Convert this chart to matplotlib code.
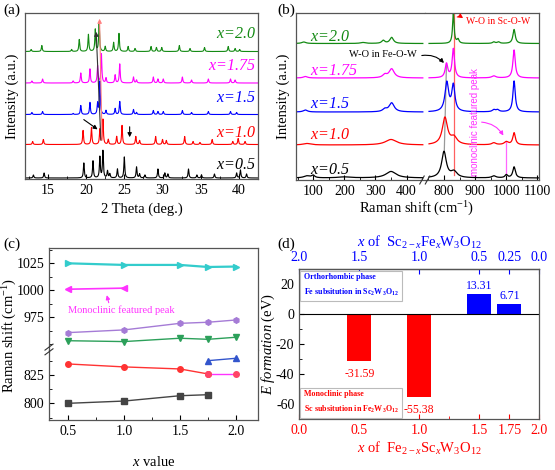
import numpy as np
import matplotlib
matplotlib.use('Agg')
import matplotlib.pyplot as plt
from matplotlib.ticker import MultipleLocator

plt.rcParams['font.family'] = ['Liberation Serif', 'DejaVu Serif']
plt.rcParams['mathtext.fontset'] = 'custom'
plt.rcParams['mathtext.rm'] = 'Liberation Serif'
plt.rcParams['mathtext.it'] = 'Liberation Serif:italic'
plt.rcParams['mathtext.bf'] = 'Liberation Serif:bold'
plt.rcParams['xtick.direction'] = 'in'
plt.rcParams['ytick.direction'] = 'in'
plt.rcParams['font.size'] = 10
plt.rcParams['axes.edgecolor'] = '#555555'
plt.rcParams['axes.linewidth'] = 0.9
plt.rcParams['axes.unicode_minus'] = False

GREEN = '#138a13'

# ---------------- (a) XRD data: peak positions (deg) and heights ----------------
xrd_labels = ['x=0.5', 'x=1.0', 'x=1.5', 'x=1.75', 'x=2.0']
xrd_colors = ['black', 'red', 'blue', 'magenta', GREEN]
xrd_base = [1, 34.5, 64.5, 96, 127.5]

xrd_pos_05 = [13.1, 14.5, 19.7, 20.9, 21.8, 22.2, 22.8, 23.1, 24.1, 25.0, 26.6, 27.0, 27.7,
              29.4, 30.3, 30.7, 33.4, 34.5, 35.1, 36.8, 39.7, 40.2, 41.0]
xrd_h_05 = [3, 5, 15, 17, 21, 27, 7, 4, 9, 21, 11, 4, 3, 9, 5, 4, 9, 3, 3, 4, 5, 8, 4]
xrd_pos_10 = [13.0, 14.4, 19.6, 20.7, 21.8, 22.2, 22.9, 24.0, 24.7, 26.5, 27.0, 29.1, 30.0,
              30.5, 32.9, 34.0, 34.9, 36.5, 39.2, 39.9, 40.8]
xrd_h_10 = [3, 5, 14, 17, 15, 25, 5, 8, 19, 8, 4, 8, 5, 4, 8, 3, 2, 5, 3, 6, 3]
xrd_pos_15 = [12.9, 14.3, 18.3, 19.3, 20.5, 21.5, 21.8, 22.6, 23.8, 24.4, 26.2, 26.6, 28.8,
              29.4, 30.1, 32.6, 33.8, 36.0, 38.9, 39.7]
xrd_h_15 = [2, 3, 1, 9, 12, 11, 33, 4, 6, 13, 5, 2, 4, 3, 3, 4, 2, 3, 3, 2]
xrd_pos_175 = [12.9, 14.3, 18.3, 19.3, 20.5, 21.5, 22.0, 22.6, 23.8, 24.4, 26.2, 26.6, 28.8,
               29.4, 30.1, 32.6, 33.8, 36.0, 38.9, 39.5]
xrd_h_175 = [2, 4, 2, 10, 14, 17, 29, 5, 8, 19, 6, 3, 6, 4, 4, 6, 3, 4, 4, 3]
xrd_pos_20 = [12.8, 14.2, 18.1, 19.1, 20.3, 21.2, 21.7, 22.5, 23.6, 24.3, 25.5, 26.4, 28.5,
              29.2, 29.9, 32.2, 33.6, 35.5, 38.6, 39.5, 40.1]
xrd_h_20 = [2, 6, 2, 12, 17, 22, 28, 5, 9, 18, 5, 3, 5, 4, 4, 6, 3, 4, 5, 3, 2]
xrd_pos = [xrd_pos_05, xrd_pos_10, xrd_pos_15, xrd_pos_175, xrd_pos_20]
xrd_h = [xrd_h_05, xrd_h_10, xrd_h_15, xrd_h_175, xrd_h_20]

# ---------------- (b) Raman data: peak position, height, half width ----------------
ram_base = [2, 35, 68, 102, 136.5]
ram_pos_05 = [80, 100, 200, 350, 800, 832, 960, 1000, 1025]
ram_h_05 = [2, 2.5, 1, 6.5, 26, 6, 2, 3, 11]
ram_w_05 = [12, 6, 25, 20, 9, 12, 8, 5, 5]
ram_pos_10 = [80, 350, 803, 832, 960, 1000, 1025]
ram_h_10 = [1.5, 5.5, 27, 7, 2, 3, 12]
ram_w_10 = [15, 22, 10, 12, 8, 8, 5]
ram_pos_15 = [75, 330, 352, 809, 830, 960, 972, 1025]
ram_h_15 = [2, 2.5, 9, 29, 26, 2, 2, 31]
ram_w_15 = [8, 8, 10, 7, 6, 6, 6, 4.5]
ram_pos_175 = [75, 330, 352, 808, 830, 960, 1025]
ram_h_175 = [1.5, 3, 9, 14, 29, 2, 28]
ram_w_175 = [8, 8, 10, 5, 4.5, 8, 4.5]
ram_pos_20 = [70, 260, 325, 352, 830, 845, 960, 975, 1025]
ram_h_20 = [1.5, 1, 3, 6, 30, 4, 1.5, 1.5, 14]
ram_w_20 = [8, 10, 6, 7, 3, 4, 5, 5, 4.5]
ram_pos = [ram_pos_05, ram_pos_10, ram_pos_15, ram_pos_175, ram_pos_20]
ram_h = [ram_h_05, ram_h_10, ram_h_15, ram_h_175, ram_h_20]
ram_w = [ram_w_05, ram_w_10, ram_w_15, ram_w_175, ram_w_20]

# ---------------- (c) peak positions vs x ----------------
c_x = [0.5, 1.0, 1.5, 1.75, 2.0]
c_cyan = [1025, 1023.5, 1023.5, 1021.6, 1022]
c_mono_x = [0.5, 1.0]
c_mono = [1001, 1002]
c_purple = [960.8, 963.3, 969.4, 970.4, 972.5]
c_green = [953.3, 952.5, 955.6, 954.6, 956.5]
c_red_x = [0.5, 1.0, 1.5, 1.75]
c_red = [834.7, 832.1, 830.3, 825.9]
c_mag_x = [1.75, 2.0]
c_mag = [825.9, 825.9]
c_blue_x = [1.75, 2.0]
c_blue = [837.6, 839.7]
c_black_x = [0.5, 1.0, 1.5, 1.75]
c_black = [800, 802, 806.7, 807.6]

# ---------------- (d) formation energies ----------------
d_red_x = [0.5, 1.0]
d_red = [-31.59, -55.38]
d_blue_x = [1.5, 1.75]
d_blue = [13.31, 6.71]
d_ticks = [0.0, 0.5, 1.0, 1.5, 1.75, 2.0]


def lorentz_sum(x, pos, h, w):
    y = np.zeros_like(x)
    for p, hh, ww in zip(pos, h, w):
        y += hh / (1 + ((x - p) / ww) ** 2)
    return y


fig = plt.figure(figsize=(5.55, 4.7), dpi=100)


def rect(l, t, r, b):
    return [l / 555, 1 - b / 470, (r - l) / 555, (b - t) / 470]


# ===== (a) =====
ax = fig.add_axes(rect(25, 13, 258, 179))
tt = np.linspace(12, 42.5, 8000)
for i in range(5):
    yy = xrd_base[i] + lorentz_sum(tt, xrd_pos[i], xrd_h[i], [0.07] * len(xrd_pos[i]))
    ax.plot(tt, yy, color=xrd_colors[i], lw=0.8)
label_y = [14, 46, 80.5, 113, 145.5]
for i in range(5):
    ax.text(0.99, label_y[i], xrd_labels[i].replace('x', '$x$'), color=xrd_colors[i], style='italic',
            fontsize=11.5, ha='right', va='center', transform=ax.get_yaxis_transform())
ax.annotate('', xy=(21.3, 150), xytext=(21.95, 36),
            arrowprops=dict(arrowstyle='-|>', color='#333333', lw=0.8, mutation_scale=6))
ax.annotate('', xy=(21.75, 163), xytext=(22.1, 36),
            arrowprops=dict(arrowstyle='-|>', color='#ff8080', lw=0.8, mutation_scale=6))
ax.annotate('', xy=(21.8, 48), xytext=(19.4, 61),
            arrowprops=dict(arrowstyle='-|>', color='black', lw=0.8, mutation_scale=6))
ax.annotate('', xy=(25.7, 39), xytext=(25.7, 55),
            arrowprops=dict(arrowstyle='-|>', color='black', lw=0.8, mutation_scale=6))
ax.set_xlim(12, 42.5)
ax.set_ylim(0, 166)
ax.set_yticks([])
ax.xaxis.set_major_locator(MultipleLocator(5))
ax.xaxis.set_minor_locator(MultipleLocator(2.5))
ax.set_xlabel('2 Theta (deg.)', fontsize=10.5, labelpad=4)
ax.set_ylabel('Intensity (a.u.)', fontsize=10.5, labelpad=4)

# ===== (b) =====
axl = fig.add_axes(rect(296, 12.5, 425.3, 180))
axr = fig.add_axes(rect(425.3, 12.5, 539, 180))
xl = np.linspace(45, 452, 2000)
xr = np.linspace(752, 1105, 2000)
for i in range(5):
    axl.plot(xl, ram_base[i] + lorentz_sum(xl, ram_pos[i], ram_h[i], ram_w[i]), color=xrd_colors[i], lw=0.9)
    axr.plot(xr, ram_base[i] + lorentz_sum(xr, ram_pos[i], ram_h[i], ram_w[i]), color=xrd_colors[i], lw=0.9)
for a in (axl, axr):
    a.set_ylim(0, 167.5)
    a.set_yticks([])
axl.set_xlim(45, 460)
axr.set_xlim(740, 1105)
axl.set_xticks([100, 200, 300, 400])
axr.set_xticks([800, 900, 1000, 1100])
axl.xaxis.set_minor_locator(MultipleLocator(50))
axr.xaxis.set_minor_locator(MultipleLocator(50))
axl.spines['right'].set_visible(False)
axr.spines['left'].set_visible(False)
axl.set_ylabel('Intensity (a.u.)', fontsize=10.5, labelpad=4)
fig.text(417 / 555, 1 - 209 / 470, 'Raman shift (cm$^{-1}$)', ha='center', va='center', fontsize=10.5)
# break marks
for dx in (-0.004, 0.006):
    fig.lines.append(plt.Line2D([425.3 / 555 + dx - 0.006, 425.3 / 555 + dx + 0.002],
                                [1 - 184 / 470, 1 - 176 / 470], color='#333333', lw=0.8,
                                transform=fig.transFigure))
ram_lab_y = [10, 45, 76, 109.3, 142.7]
for i in range(5):
    axl.text(90, ram_lab_y[i], xrd_labels[i].replace('x', '$x$'), color=xrd_colors[i], style='italic',
             fontsize=11.5, ha='left', va='center')
axr.plot([833, 833], [5, 167.5], color='#ff6060', lw=0.9, zorder=0)
axr.plot([801, 808], [29, 116], color='#999999', lw=0.9, zorder=0)
axr.plot([1000, 1000], [7, 38], color='#ff66ff', lw=0.9, zorder=0)
axr.text(870, 159, 'W-O in Sc-O-W', color='red', fontsize=7, ha='left', va='center')
axr.annotate('', xy=(868, 160), xytext=(834, 162),
             arrowprops=dict(arrowstyle='-|>', color='red', lw=0.8, mutation_scale=6,
                             connectionstyle='arc3,rad=-0.4'))
axl.text(325, 126, 'W-O in Fe-O-W', color='black', fontsize=7.5, ha='center', va='center')
axr.annotate('', xy=(806, 115), xytext=(440, 124), textcoords=axl.transData,
             arrowprops=dict(arrowstyle='-|>', color='black', lw=0.8, mutation_scale=6,
                             connectionstyle='arc3,rad=-0.3'), annotation_clip=False)
axr.text(899, 58, 'monoclinic featured peak', color='#ff33ff', fontsize=7, rotation=90,
         ha='center', va='center', family=['Liberation Sans', 'DejaVu Sans'])
axr.annotate('', xy=(995, 42), xytext=(912, 58),
             arrowprops=dict(arrowstyle='-|>', color='#ff33ff', lw=0.8, mutation_scale=6,
                             connectionstyle='arc3,rad=-0.3'))

# ===== (c) =====
axu = fig.add_axes(rect(49, 248.3, 258.3, 350))
axd = fig.add_axes(rect(49, 350, 258.3, 420))
ms = 4
axu.plot(c_x, c_cyan, color='#33cccc', lw=1.6, marker='>', ms=ms)
axu.plot(c_mono_x, c_mono, color='#ff33ff', lw=1.2, marker='<', ms=ms)
axu.plot(c_x, c_purple, color='#a57bd6', lw=1.0, marker='h', ms=ms)
axu.plot(c_x, c_green, color='#2ca05a', lw=1.0, marker='v', ms=ms)
axd.plot(c_red_x, c_red, color='#ff3333', lw=1.0, marker='o', ms=ms)
axd.plot(c_mag_x, c_mag, color='#ff33ff', lw=1.0, marker='o', ms=ms, mfc='#ff4466', mec='#ff4466')
axd.plot(c_blue_x, c_blue, color='#3355cc', lw=1.0, marker='^', ms=ms)
axd.plot(c_black_x, c_black, color='#444444', lw=1.0, marker='s', ms=ms)
axu.set_ylim(944.7, 1038.9)
axd.set_ylim(785.3, 847)
for a in (axu, axd):
    a.set_xlim(0.33, 2.2)
    a.yaxis.set_minor_locator(MultipleLocator(12.5))
axu.set_yticks([975, 1000, 1025])
axd.set_yticks([800, 825])
axu.spines['bottom'].set_visible(False)
axd.spines['top'].set_visible(False)
axu.set_xticks([])
axu.tick_params(axis='x', which='both', bottom=False)
axd.set_xticks([0.5, 1.0, 1.5, 2.0])
axd.xaxis.set_minor_locator(MultipleLocator(0.25))
axd.set_xlabel('$x$ value', fontsize=10.5, labelpad=12)
fig.text(10 / 555, 1 - 335 / 470, 'Raman shift (cm$^{-1}$)', rotation=90, ha='center', va='center',
         fontsize=10.5)
for dy in (-0.006, 0.004):
    fig.lines.append(plt.Line2D([45 / 555, 53 / 555], [1 - 352 / 470 + dy, 1 - 346 / 470 + dy],
                                color='#333333', lw=0.8, transform=fig.transFigure))
axu.text(0.5, 982, 'Monoclinic featured peak', color='#ff33ff', fontsize=7.5, ha='left', va='center')
axu.annotate('', xy=(0.84, 998), xytext=(0.87, 986),
             arrowprops=dict(arrowstyle='-|>', color='#ff33ff', lw=0.8, mutation_scale=6))

# ===== (d) =====
ax4 = fig.add_axes(rect(299.3, 269, 539.3, 419))
ax4.bar(d_red_x, d_red, width=0.2, color='red')
ax4.bar(d_blue_x, d_blue, width=0.2, color='blue')
ax4.axhline(0, color='black', lw=0.8)
for xx, vv in zip(d_red_x, d_red):
    ax4.text(xx, vv - 8.5, '%.2f' % vv, color='red', ha='center', va='center', fontsize=8.5)
for xx, vv in zip(d_blue_x, d_blue):
    ax4.text(xx, vv + 5.3, '%.2f' % vv, color='blue', ha='center', va='center', fontsize=8.5)
ax4.set_xlim(0, 2)
ax4.set_ylim(-70, 30)
ax4.set_yticks([-60, -40, -20, 0, 20])
ax4.yaxis.set_minor_locator(MultipleLocator(10))
ax4.set_xticks(d_ticks)
ax4.set_xticklabels(['0.0', '0.5', '1.0', '1.5', '1.75', '2.0'])
ax4.xaxis.set_minor_locator(MultipleLocator(0.25))
ax4.tick_params(axis='x', colors='red', which='both')
ax4.spines['bottom'].set_color('#555555')
ax4.set_xlabel('$x$ of  Fe$_{2-x}$Sc$_x$W$_3$O$_{12}$', color='red', fontsize=10.5, labelpad=2)
ax4.set_ylabel('$E\\ formation$ (eV)', fontsize=10.5)
ax4.yaxis.set_label_coords(-0.093, 0.5)
sec = ax4.secondary_xaxis('top', functions=(lambda v: 2 - v, lambda v: 2 - v))
sec.set_xticks([2.0, 1.5, 1.0, 0.5, 0.25, 0.0])
sec.set_xticklabels(['2.0', '1.5', '1.0', '0.5', '0.25', '0.0'])
sec.tick_params(axis='x', colors='blue', direction='in')
sec.set_xlabel('$x$ of  Sc$_{2-x}$Fe$_x$W$_3$O$_{12}$', color='blue', fontsize=10.5, labelpad=3)
ax4.text(0.018, 0.975, 'Orthorhombic phase\nFe subsitution in Sc$_\\mathbf{2}$W$_\\mathbf{3}$O$_\\mathbf{12}$',
         transform=ax4.transAxes, color='blue', fontsize=5.8, fontweight='bold', ha='left', va='top',
         linespacing=1.7, bbox=dict(boxstyle='square,pad=0.4', fc='white', ec='#bbbbbb', lw=0.8))
ax4.text(0.018, 0.025, 'Monoclinic phase\nSc subsitution in Fe$_\\mathbf{2}$W$_\\mathbf{3}$O$_\\mathbf{12}$',
         transform=ax4.transAxes, color='red', fontsize=5.8, fontweight='bold', ha='left', va='bottom',
         linespacing=1.7, bbox=dict(boxstyle='square,pad=0.4', fc='white', ec='#bbbbbb', lw=0.8))

# panel labels
fig.text(3 / 555, 1 - 10 / 470, '(a)', fontsize=11, va='center')
fig.text(277 / 555, 1 - 10 / 470, '(b)', fontsize=11, va='center')
fig.text(3 / 555, 1 - 244 / 470, '(c)', fontsize=11, va='center')
fig.text(277 / 555, 1 - 244 / 470, '(d)', fontsize=11, va='center')

fig.savefig('out.png', dpi=100)
